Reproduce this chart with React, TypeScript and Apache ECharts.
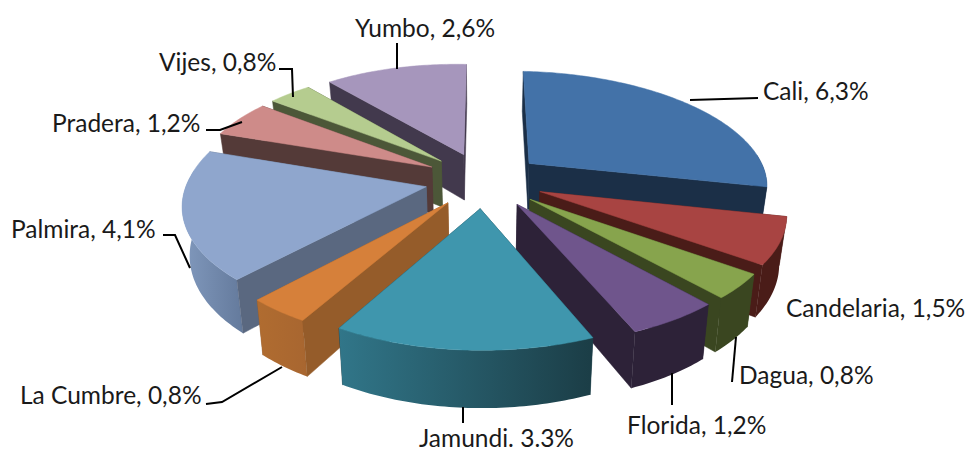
import React, { useEffect, useRef } from "react";
import * as echarts from "echarts";

const categories = ["Cali", "Candelaria", "Dagua", "Florida", "Jamundi", "La Cumbre", "Palmira", "Pradera", "Vijes", "Yumbo"];
const values = [6.3, 1.5, 0.8, 1.2, 3.3, 0.8, 4.1, 1.2, 0.8, 2.6];
const labelTexts = ["Cali, 6,3%", "Candelaria, 1,5%", "Dagua, 0,8%", "Florida, 1,2%", "Jamundi. 3.3%", "La Cumbre, 0,8%", "Palmira, 4,1%", "Pradera, 1,2%", "Vijes, 0,8%", "Yumbo, 2,6%"];
const topColors = ["#4372a8", "#a84442", "#87a44d", "#6f558c", "#3f96ad", "#d6803a", "#8fa6cd", "#ce8b89", "#b5cc8f", "#a696bc"];
const faceColors = ["#1b2f47", "#4a1c18", "#3a4620", "#2d2238", "#1b3d46", "#955c2a", "#5a6880", "#543a38", "#4c5738", "#42394d"];
const rimLeft = ["#1b2f47", "#4a1c18", "#3a4620", "#2d2238", "#317689", "#b06c30", "#8199bd", "#543a38", "#4c5738", "#42394d"];
const rimRight = ["#1b2f47", "#4a1c18", "#3a4620", "#2d2238", "#1b3d46", "#a86630", "#647a9c", "#543a38", "#4c5738", "#42394d"];
const drawOrder = [9, 0, 8, 7, 1, 6, 2, 5, 3, 4];

const labelBoxes: [number, number][] = [[763, 90], [786, 307], [739, 374], [627, 424], [419, 437], [20, 394], [11, 228], [52, 122], [159, 61], [355, 27]];
const leaders: number[][][] = [
  [[690, 100], [758, 98]],
  [],
  [[736, 337], [732, 382]],
  [[672, 373], [672, 405]],
  [[463, 407], [463, 423]],
  [[282, 367], [222, 402], [206, 404]],
  [[163, 235], [175, 235], [190, 268]],
  [[206, 130], [220, 130], [242, 122]],
  [[279, 69], [292, 69], [293, 97]],
  [[397, 43], [397, 69]],
];

const CX = 484, CY = 180, RX = 240, RY = 110.7, K = 0.15, EXPLODE = 0.25, H = 47;
const total = values.reduce((a, b) => a + b, 0);

function project(X: number, Y: number, bottom: boolean): number[] {
  const s = 1 / (1 - K * Y);
  const skew = Y > 0 ? -5 * Y : 0;
  const rx = X < 0 ? RX * 0.985 : RX;
  let x = CX + rx * X * s + skew;
  let y = CY + RY * Y * s + 4 * X;
  if (bottom) {
    x = CX + (x - CX) * 0.975;
    y += H * s;
  }
  return [x, y];
}

function renderSlice(_: any, api: any) {
  const idx = api.value(1) as number;
  let before = 0;
  for (let i = 0; i < idx; i++) before += values[i];
  const a0 = (before / total) * Math.PI * 2;
  const a1 = ((before + values[idx]) / total) * Math.PI * 2;
  const mid = (a0 + a1) / 2;
  const ox = Math.sin(mid) * EXPLODE;
  const oy = -Math.cos(mid) * EXPLODE;
  const pt = (r: number, a: number, b: boolean) => project(ox + r * Math.sin(a), oy - r * Math.cos(a), b);
  const poly = (points: number[][], fill: any) => ({
    type: "polygon", silent: true,
    shape: { points },
    style: { fill, stroke: typeof fill === "string" ? fill : "none", lineWidth: 0.5 },
  });
  const steps = Math.max(8, Math.ceil((a1 - a0) * 60));
  const topArc: number[][] = [], rimTop: number[][] = [], rimBottom: number[][] = [];
  for (let i = 0; i <= steps; i++) {
    const a = a0 + ((a1 - a0) * i) / steps;
    topArc.push(pt(1, a, false));
    if (-Math.cos(a) > -0.12) {
      rimTop.push(pt(1, a, false));
      rimBottom.push(pt(1, a, true));
    }
  }
  const top = poly([pt(0, a0, false), ...topArc], topColors[idx]);
  const face = (a: number) => poly([pt(0, a, false), pt(1, a, false), pt(1, a, true), pt(0, a, true)], faceColors[idx]);
  const startVisible = -Math.cos(a0 - Math.PI / 2) > 0;
  const endVisible = -Math.cos(a1 + Math.PI / 2) > 0;
  const children: any[] = [];
  if (!startVisible) children.push(face(a0));
  if (!endVisible) children.push(face(a1));
  if (rimTop.length > 1) {
    children.push(poly([...rimTop, ...rimBottom.reverse()], {
      type: "linear", x: 0, y: 0, x2: 1, y2: 0,
      colorStops: [{ offset: 0, color: rimLeft[idx] }, { offset: 1, color: rimRight[idx] }],
    }));
  }
  if (startVisible) children.push(face(a0));
  if (endVisible) children.push(face(a1));
  children.push(top);
  return { type: "group", children };
}

export default function App() {
  const ref = useRef<HTMLDivElement>(null);
  useEffect(() => {
    document.body.style.margin = "0";
    const chart = echarts.init(ref.current!, undefined, { renderer: "svg" });
    const graphic: any[] = [];
    leaders.forEach((points) => {
      if (points.length) graphic.push({
        type: "polyline", silent: true, shape: { points },
        style: { stroke: "#000000", lineWidth: 2, fill: "none" }, z: 10,
      });
    });
    labelBoxes.forEach(([x, y], i) => {
      graphic.push({
        type: "text", silent: true, x, y, z: 11,
        style: { text: labelTexts[i], fill: "#1a1a1a", font: '24.5px Lato', textAlign: "left", textVerticalAlign: "middle" },
      });
    });
    chart.setOption({
      animation: false,
      backgroundColor: "#ffffff",
      graphic,
      series: [{
        type: "custom",
        name: "Municipios",
        coordinateSystem: "none",
        clip: false,
        renderItem: renderSlice,
        data: drawOrder.map((i) => ({ name: categories[i], value: [values[i], i] })),
      }],
    });
    return () => chart.dispose();
  }, []);
  return <div ref={ref} style={{ width: 969, height: 450 }} />;
}
